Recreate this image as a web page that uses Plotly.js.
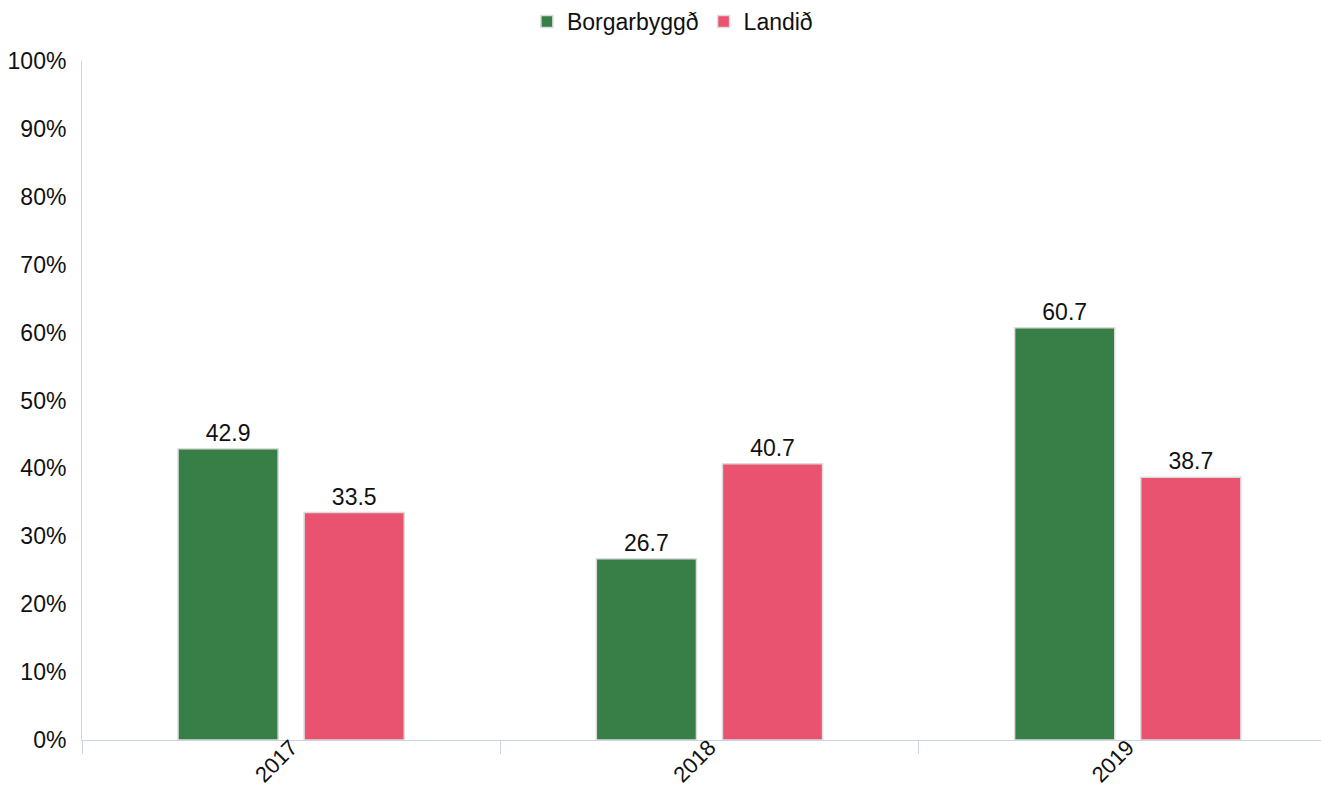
<!DOCTYPE html>
<html>
<head>
<meta charset="utf-8">
<script src="https://cdn.plot.ly/plotly-3.0.1.min.js"></script>
<style>html,body{margin:0;padding:0;background:#fff;}#chart{width:1321px;height:787px;}</style>
</head>
<body>
<div id="chart"></div>
<script>
const years = ['2017', '2018', '2019'];
const borgarbyggd = [42.9, 26.7, 60.7];
const landid = [33.5, 40.7, 38.7];
const seriesNames = ['Borgarbyggð', 'Landið'];
const yTickVals = [0, 10, 20, 30, 40, 50, 60, 70, 80, 90, 100];
const yTickText = yTickVals.map(v => v + '%');

const fam = 'Liberation Sans, Arial, sans-serif';
const font = {family: fam, color: '#111', size: 23};
const axisColor = '#c8d5e8';

function series(name, vals, color) {
  return {
    type: 'bar', name: name, x: years, y: vals,
    marker: {color: color, line: {color: '#dcdcdc', width: 1.5}},
    text: vals.map(v => v.toFixed(1)), textposition: 'outside',
    textfont: {family: fam, size: 23, color: '#111'},
    cliponaxis: false, hoverinfo: 'x+y'
  };
}

const data = [
  series(seriesNames[0], borgarbyggd, '#387f47'),
  series(seriesNames[1], landid, '#e9536f')
];

const layout = {
  width: 1321, height: 787,
  margin: {l: 82, r: 0, t: 61, b: 47, pad: 0},
  paper_bgcolor: '#fff', plot_bgcolor: '#fff',
  font: font,
  barmode: 'group', bargap: 0.397, bargroupgap: 0.206,
  showlegend: true,
  legend: {orientation: 'h', x: 0.509, xref: 'container', xanchor: 'center', y: 1.0, yref: 'container', yanchor: 'top',
           font: {family: fam, size: 23, color: '#111'}, itemwidth: 30, tracegroupgap: 0},
  xaxis: {
    type: 'category', range: [-0.5, 2.462], tickangle: -45,
    showline: true, linecolor: axisColor, linewidth: 1,
    ticks: 'outside', tickson: 'boundaries', ticklen: 13, tickcolor: axisColor,
    ticklabelstandoff: -15,
    showgrid: false, zeroline: false,
    tickfont: {family: fam, size: 22, color: '#111'}
  },
  yaxis: {
    range: [0, 100], tickvals: yTickVals, ticktext: yTickText,
    showline: true, linecolor: axisColor, linewidth: 1,
    showgrid: false, zeroline: false, ticks: '', ticklabelstandoff: 10,
    tickfont: {family: fam, size: 23, color: '#111'}
  }
};

Plotly.newPlot('chart', data, layout, {displayModeBar: false, staticPlot: true});
</script>
</body>
</html>
